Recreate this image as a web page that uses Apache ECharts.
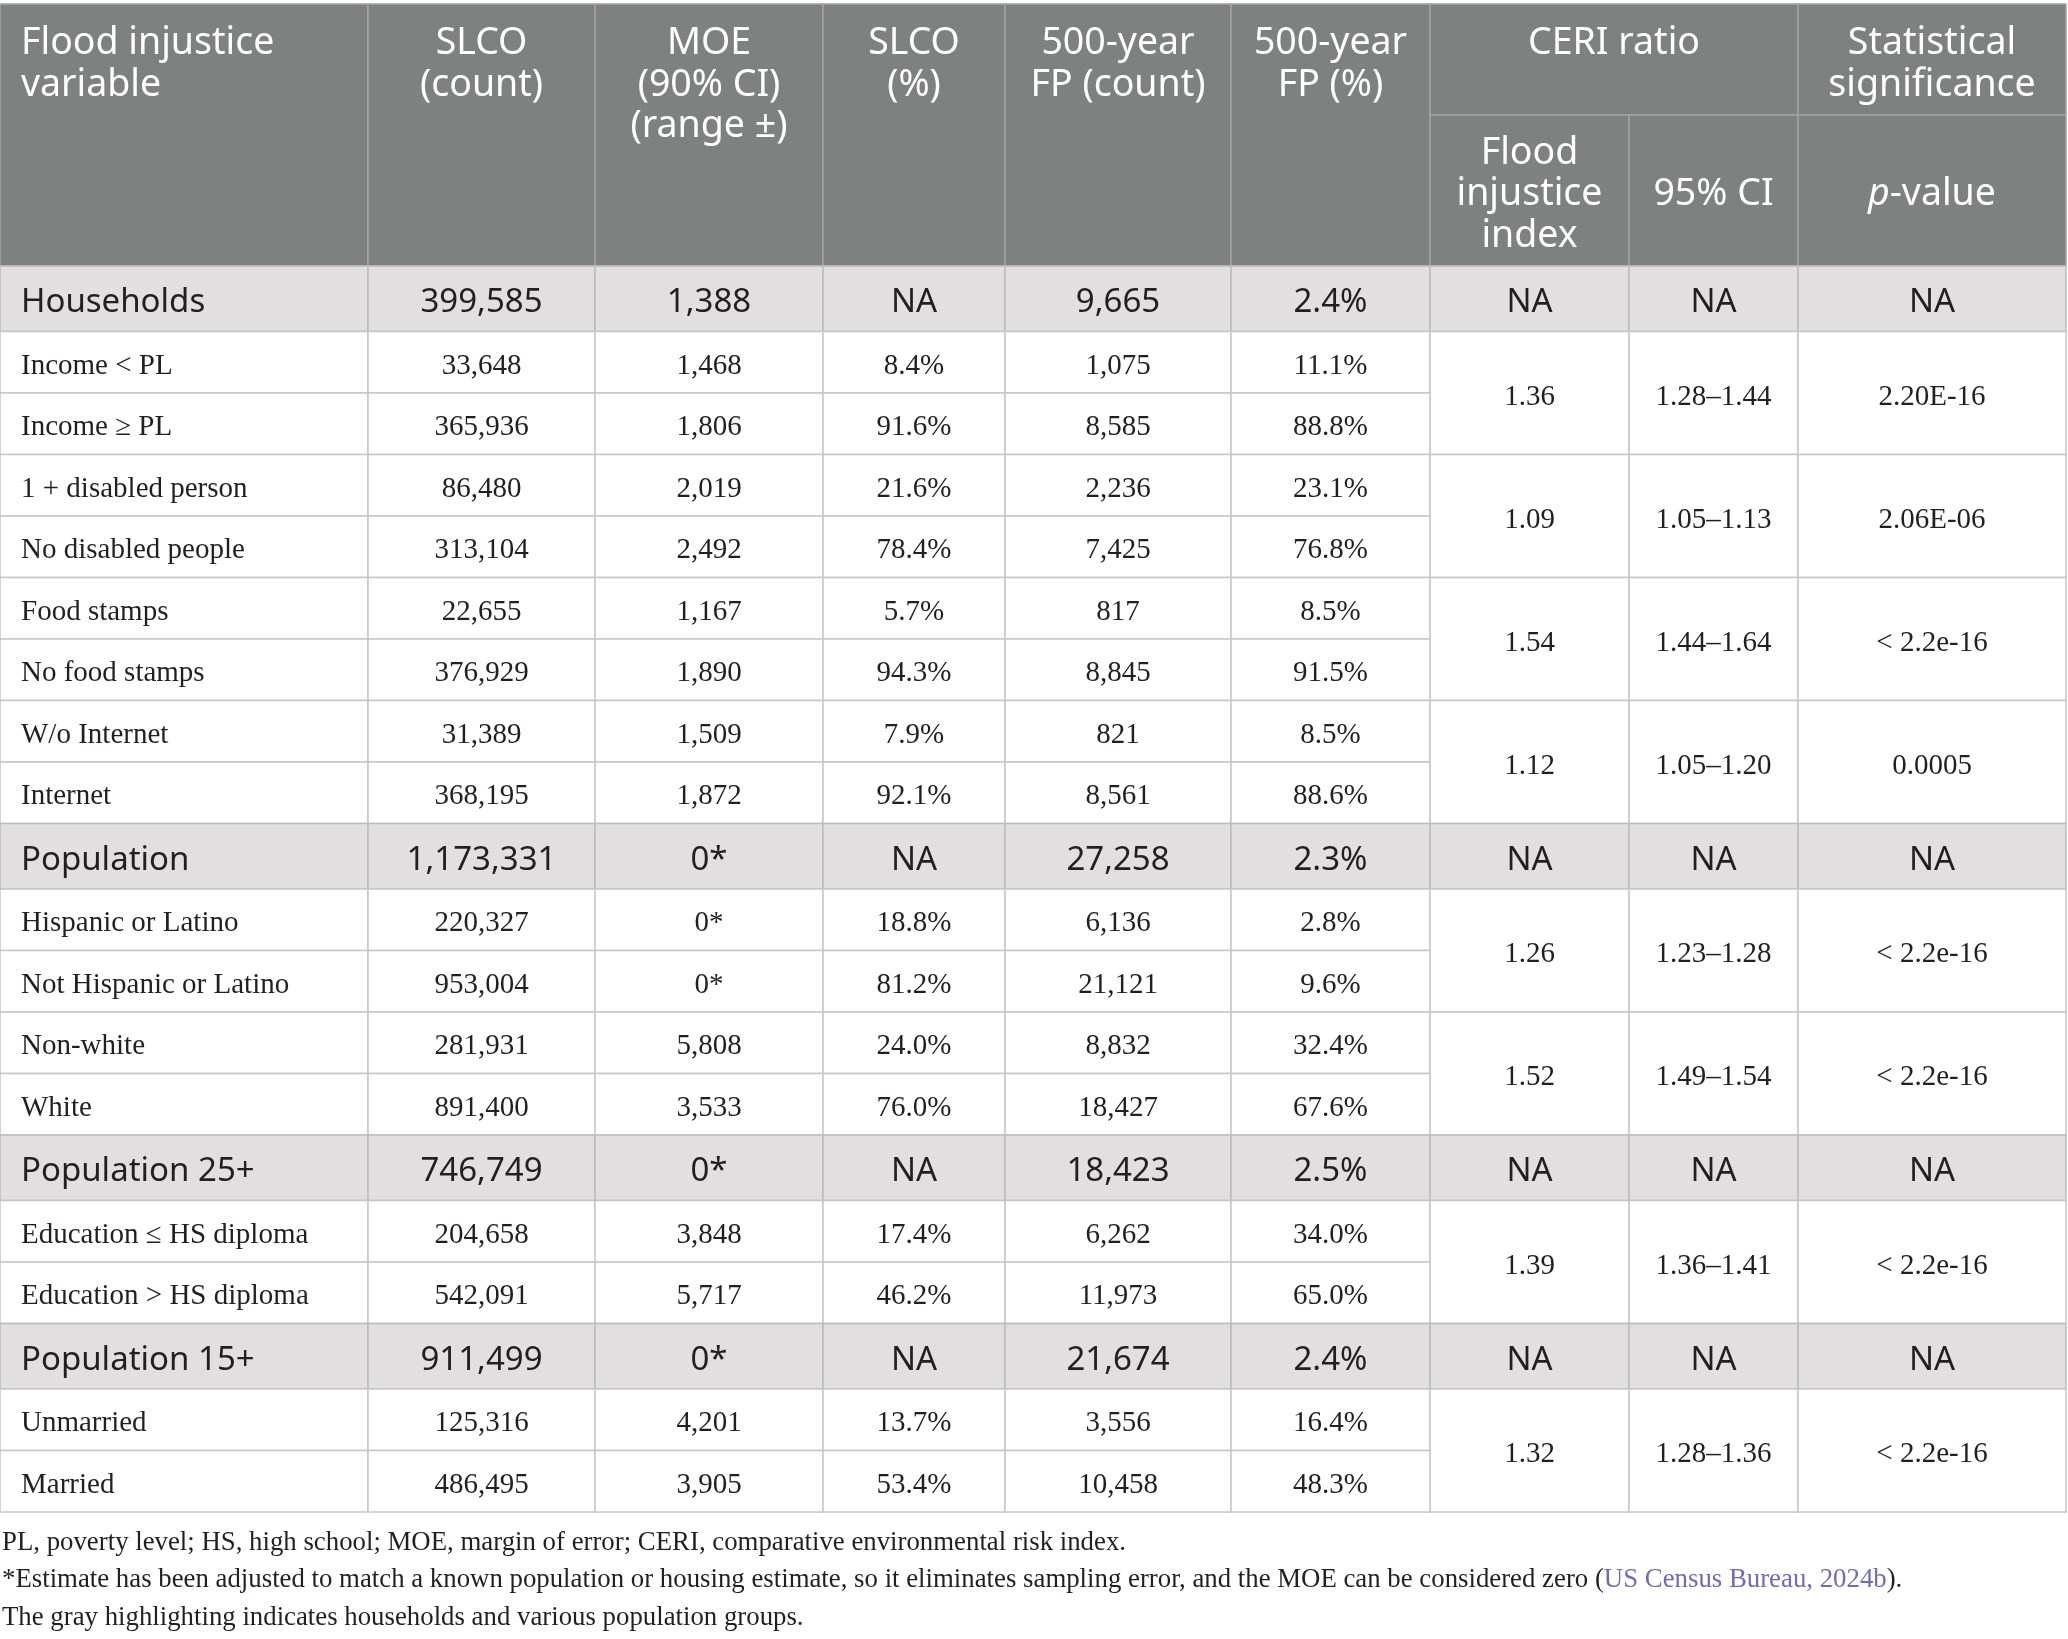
<!DOCTYPE html>
<html>
<head>
<meta charset="utf-8">
<title>Flood injustice table</title>
<script src="https://cdn.jsdelivr.net/npm/echarts@6.0.0/dist/echarts.min.js"></script>
<style>
    html, body { margin: 0; padding: 0; background: #ffffff; }
    #main { width: 2068px; height: 1639px; }
</style>
</head>
<body>
<div id="main"></div>
<script>
    // 表格数据
    var rowLabels = ['Households', 'Income < PL', 'Income \u2265 PL', '1 + disabled person', 'No disabled people',
        'Food stamps', 'No food stamps', 'W/o Internet', 'Internet',
        'Population', 'Hispanic or Latino', 'Not Hispanic or Latino', 'Non-white', 'White',
        'Population 25+', 'Education \u2264 HS diploma', 'Education > HS diploma',
        'Population 15+', 'Unmarried', 'Married'];
    var groupRows = ['Households', 'Population', 'Population 25+', 'Population 15+'];
    var slcoCount = ['399,585', '33,648', '365,936', '86,480', '313,104', '22,655', '376,929', '31,389', '368,195',
        '1,173,331', '220,327', '953,004', '281,931', '891,400',
        '746,749', '204,658', '542,091',
        '911,499', '125,316', '486,495'];
    var moe = ['1,388', '1,468', '1,806', '2,019', '2,492', '1,167', '1,890', '1,509', '1,872',
        '0*', '0*', '0*', '5,808', '3,533',
        '0*', '3,848', '5,717',
        '0*', '4,201', '3,905'];
    var slcoPct = ['NA', '8.4%', '91.6%', '21.6%', '78.4%', '5.7%', '94.3%', '7.9%', '92.1%',
        'NA', '18.8%', '81.2%', '24.0%', '76.0%',
        'NA', '17.4%', '46.2%',
        'NA', '13.7%', '53.4%'];
    var fpCount = ['9,665', '1,075', '8,585', '2,236', '7,425', '817', '8,845', '821', '8,561',
        '27,258', '6,136', '21,121', '8,832', '18,427',
        '18,423', '6,262', '11,973',
        '21,674', '3,556', '10,458'];
    var fpPct = ['2.4%', '11.1%', '88.8%', '23.1%', '76.8%', '8.5%', '91.5%', '8.5%', '88.6%',
        '2.3%', '2.8%', '9.6%', '32.4%', '67.6%',
        '2.5%', '34.0%', '65.0%',
        '2.4%', '16.4%', '48.3%'];
    // CERI 列：分组行一格，其余每两行合并一格
    var ceriIndex = ['NA', '1.36', '1.09', '1.54', '1.12', 'NA', '1.26', '1.52', 'NA', '1.39', 'NA', '1.32'];
    var ceriCI = ['NA', '1.28\u20131.44', '1.05\u20131.13', '1.44\u20131.64', '1.05\u20131.20', 'NA',
        '1.23\u20131.28', '1.49\u20131.54', 'NA', '1.36\u20131.41', 'NA', '1.28\u20131.36'];
    var pValue = ['NA', '2.20E-16', '2.06E-06', '< 2.2e-16', '0.0005', 'NA',
        '< 2.2e-16', '< 2.2e-16', 'NA', '< 2.2e-16', 'NA', '< 2.2e-16'];
    var headerTitles = ['Flood injustice\nvariable', 'SLCO\n(count)', 'MOE\n(90% CI)\n(range \u00b1)', 'SLCO\n(%)',
        '500-year\nFP (count)', '500-year\nFP (%)'];
    var notes = [
        'PL, poverty level; HS, high school; MOE, margin of error; CERI, comparative environmental risk index.',
        '*Estimate has been adjusted to match a known population or housing estimate, so it eliminates sampling error, and the MOE can be considered zero ({l|US Census Bureau, 2024b}).',
        'The gray highlighting indicates households and various population groups.'
    ];

    // 版式
    var colWidths = [368, 227, 228, 182, 226, 199, 199, 169, 268];
    var headerHeights = [111, 151];
    var groupHeight = 65.5, rowHeight = 61.5;
    var sans = '"Noto Sans", "Open Sans", sans-serif';
    var serif = '"Liberation Serif", "Times New Roman", serif';

    var colEdges = [0];
    colWidths.forEach(function (w, i) { colEdges.push(colEdges[i] + w); });
    var rowHeights = headerHeights.concat(rowLabels.map(function (n) {
        return groupRows.indexOf(n) >= 0 ? groupHeight : rowHeight;
    }));
    var rowEdges = [0];
    rowHeights.forEach(function (h, i) { rowEdges.push(rowEdges[i] + h); });

    var cells = [];
    function addCell(c0, c1, r0, r1, text, kind, opt) {
        cells.push({c0: c0, c1: c1, r0: r0, r1: r1, text: text, kind: kind, opt: opt || {}});
    }

    // 表头
    headerTitles.forEach(function (t, i) {
        addCell(i, i + 1, 0, 2, t, 'head', {align: i === 0 ? 'left' : 'center', top: true});
    });
    addCell(6, 8, 0, 1, 'CERI ratio', 'head', {top: true});
    addCell(8, 9, 0, 1, 'Statistical\nsignificance', 'head', {top: true});
    addCell(6, 7, 1, 2, 'Flood\ninjustice\nindex', 'head', {});
    addCell(7, 8, 1, 2, '95% CI', 'head', {});
    addCell(8, 9, 1, 2, '{i|p}-value', 'head', {});

    // 数据行
    var block = 0, spanEnd = 0;
    rowLabels.forEach(function (name, i) {
        var r = i + 2;
        var kind = groupRows.indexOf(name) >= 0 ? 'group' : 'body';
        [name, slcoCount[i], moe[i], slcoPct[i], fpCount[i], fpPct[i]].forEach(function (v, c) {
            addCell(c, c + 1, r, r + 1, v, kind, {align: c === 0 ? 'left' : 'center'});
        });
        if (r >= spanEnd) {
            var span = kind === 'group' ? 1 : 2;
            [ceriIndex[block], ceriCI[block], pValue[block]].forEach(function (v, k) {
                addCell(6 + k, 7 + k, r, r + span, v, kind, {});
            });
            spanEnd = r + span;
            block++;
        }
    });

    var styles = {
        head: {fill: '#7f8180', stroke: '#a2a4a3', color: '#ffffff', font: sans, size: 37.5},
        group: {fill: '#e1dfe0', stroke: '#bdbdbd', color: '#231f20', font: sans, size: 33},
        body: {fill: '#ffffff', stroke: '#c6c6c6', color: '#231f20', font: serif, size: 29}
    };

    function renderItem(params, api) {
        var cell = cells[params.dataIndex];
        var st = styles[cell.kind];
        var p0 = api.coord([api.value(0), api.value(1)]);
        var p1 = api.coord([api.value(2), api.value(3)]);
        var w = p1[0] - p0[0], h = p1[1] - p0[1];
        var align = cell.opt.align || 'center';
        var tx = align === 'left' ? p0[0] + 21 : p0[0] + w / 2;
        var ty = cell.opt.top ? p0[1] + 19 : p0[1] + h / 2 + 4;
        var lh = cell.kind === 'head' ? 41.5 : st.size * 1.2;
        return {
            type: 'group',
            children: [{
                type: 'rect',
                shape: {x: p0[0], y: p0[1], width: w, height: h},
                style: {fill: st.fill, stroke: st.stroke, lineWidth: 1.5}
            }, {
                type: 'text',
                style: {
                    text: cell.text,
                    x: tx,
                    y: ty,
                    align: align,
                    verticalAlign: cell.opt.top ? 'top' : 'middle',
                    fill: st.color,
                    fontFamily: st.font,
                    fontSize: st.size,
                    lineHeight: lh,
                    rich: {
                        i: {fontFamily: st.font, fontSize: st.size, fontStyle: 'italic', fill: st.color, lineHeight: lh}
                    }
                }
            }]
        };
    }

    var chart = echarts.init(document.getElementById('main'));
    var tableW = colEdges[colEdges.length - 1], tableH = rowEdges[rowEdges.length - 1];

    var noteGraphics = notes.map(function (t, i) {
        return {
            type: 'text',
            left: 2,
            top: 1529 + i * 37.5,
            style: {
                text: t,
                fill: '#231f20',
                fontFamily: serif,
                fontSize: 26.8,
                rich: {
                    l: {fill: '#6f6bb6', fontFamily: serif, fontSize: 26.8}
                }
            }
        };
    });

    chart.setOption({
        animation: false,
        grid: {left: 0, top: 4, width: tableW, height: tableH},
        xAxis: {type: 'value', min: 0, max: tableW, show: false},
        yAxis: {type: 'value', min: 0, max: tableH, inverse: true, show: false},
        series: [{
            type: 'custom',
            silent: true,
            clip: false,
            renderItem: renderItem,
            data: cells.map(function (c) {
                return [colEdges[c.c0], rowEdges[c.r0], colEdges[c.c1], rowEdges[c.r1]];
            })
        }],
        graphic: noteGraphics
    });
</script>
</body>
</html>
